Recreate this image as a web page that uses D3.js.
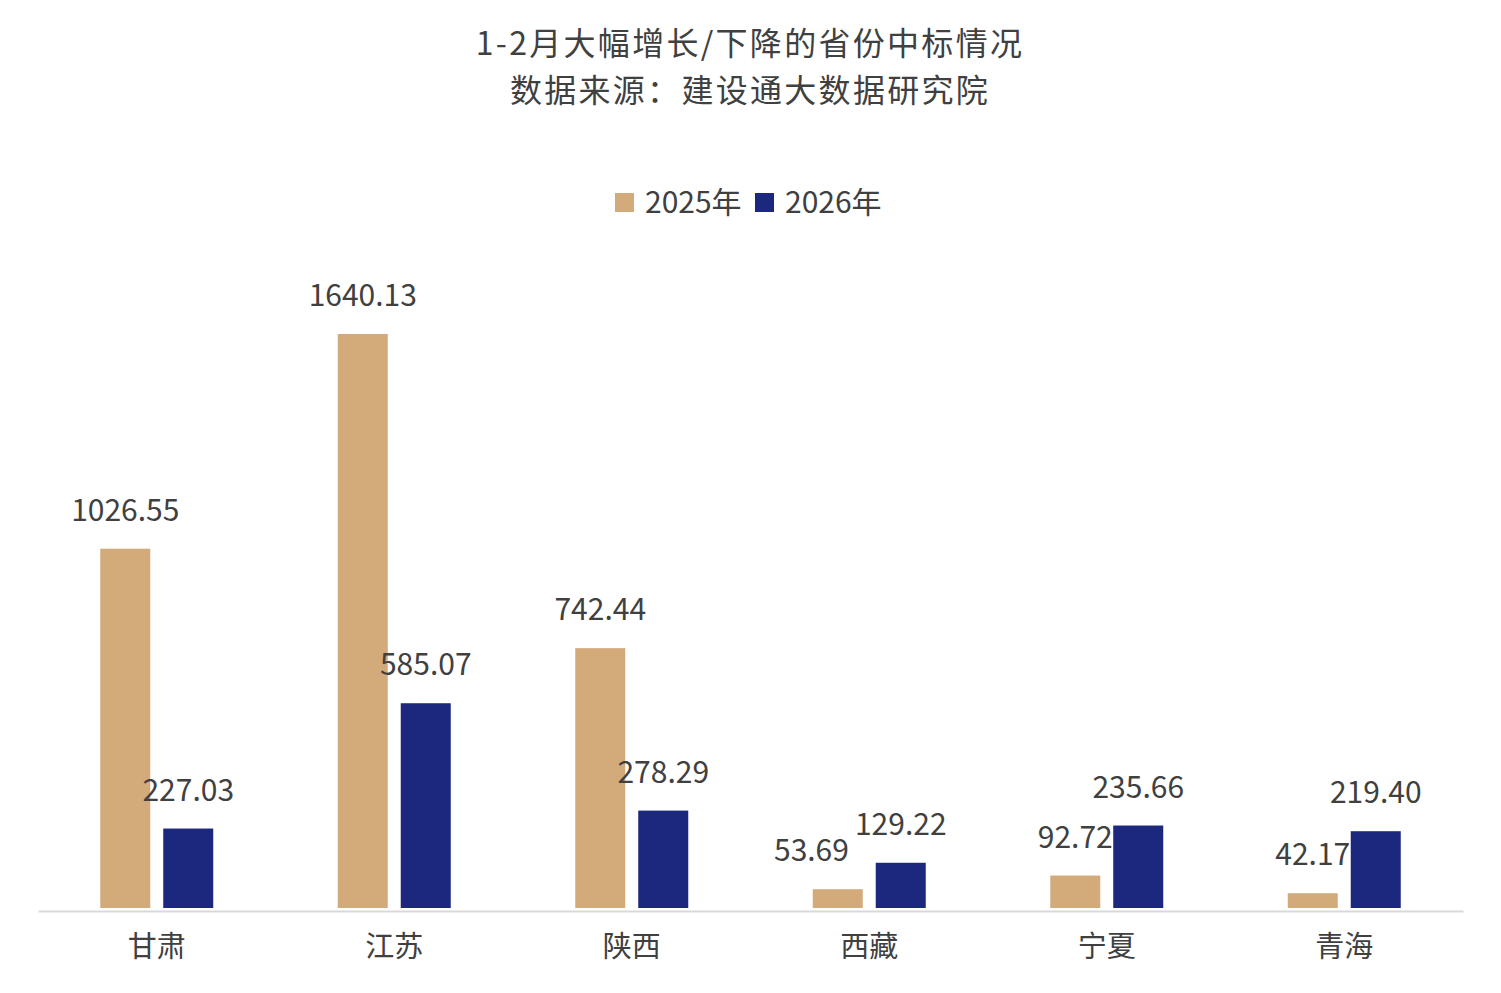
<!DOCTYPE html>
<html>
<head>
<meta charset="utf-8">
<script src="https://cdn.jsdelivr.net/npm/d3@7"></script>
<style>
  body { margin: 0; background: #fff; }
  text { font-family: "Microsoft YaHei", "Noto Sans CJK SC", sans-serif; fill: #404040; }
</style>
</head>
<body>
<div id="chart"></div>
<script>
// data
let provinces = ["甘肃", "江苏", "陕西", "西藏", "宁夏", "青海"];
let series_names = ["2025年", "2026年"];
let values_2025 = [1026.55, 1640.13, 742.44, 53.69, 92.72, 42.17];
let values_2026 = [227.03, 585.07, 278.29, 129.22, 235.66, 219.40];
let colors = ["#D3AB7B", "#1B287D"];
let title_lines = ["1-2月大幅增长/下降的省份中标情况", "数据来源：建设通大数据研究院"];

function add_svg(wrapper)
{
  let svg = d3.select(wrapper).append("svg");
  return svg.attr("width", 1501).attr("height", 993);
}

function draw_bars(wrapper)
{
  let svg = add_svg(wrapper);

  // title
  svg.selectAll(".title").data(title_lines).enter().append("text")
    .attr("x", 750).attr("y", (d, i) => 55 + i * 47)
    .attr("text-anchor", "middle")
    .style("font-size", "32px")
    .style("letter-spacing", "2.3px")
    .text(d => d);

  let scalex = d3.scaleBand().domain(provinces).range([38, 1463]);
  let scale_series = d3.scaleBand().domain(series_names)
    .range([scalex.bandwidth() / 2 - 56.5, scalex.bandwidth() / 2 + 56.5])
    .paddingInner(0.206);
  let scaley = d3.scaleLinear().domain([0, 1800]).range([908, 278]);

  let rows = provinces.map((p, i) => ({ name: p, vals: [values_2025[i], values_2026[i]] }));

  let groups = svg.selectAll(".grp").data(rows).enter().append("g")
    .attr("transform", d => "translate(" + scalex(d.name) + ",0)");

  groups.selectAll("rect").data(d => d.vals.map((v, j) => ({ s: series_names[j], v: v, c: colors[j] })))
    .enter().append("rect")
    .attr("x", d => scale_series(d.s))
    .attr("width", scale_series.bandwidth())
    .attr("y", d => scaley(d.v))
    .attr("height", d => scaley(0) - scaley(d.v))
    .attr("fill", d => d.c);

  groups.each(function(d) {
    let g = d3.select(this);
    let labels = g.selectAll(".lbl").data(d.vals.map((v, j) => ({ s: series_names[j], v: v })))
      .enter().append("text")
      .attr("class", "lbl")
      .attr("x", e => scale_series(e.s) + scale_series.bandwidth() / 2)
      .attr("y", e => scaley(e.v) - 28)
      .attr("text-anchor", "middle")
      .style("font-size", "30px")
      .text(e => e.v.toFixed(2));

    // push the 2025 label left when it runs into the 2026 one
    let nodes = labels.nodes();
    let a = nodes[0].getBBox(), b = nodes[1].getBBox();
    let overlap_y = a.y < b.y + b.height - 12 && b.y < a.y + a.height - 12;
    let overlap_x = a.x + a.width + 6 - b.x;
    if (overlap_y && overlap_x > 0)
      d3.select(nodes[0]).attr("x", +d3.select(nodes[0]).attr("x") - overlap_x);
  });

  // x axis
  let x_axis = d3.axisBottom(scalex).tickSize(0).tickPadding(25);
  let gx = svg.append("g").attr("transform", "translate(0,911)").call(x_axis);
  gx.select(".domain").attr("stroke", "#D9D9D9").attr("stroke-width", 2);
  gx.selectAll("text").style("font-size", "29px").attr("fill", "#404040")
    .style("font-family", "\"Microsoft YaHei\", \"Noto Sans CJK SC\", sans-serif");

  // legend
  let legend = svg.append("g");
  let lx = [615, 755];
  series_names.forEach((s, i) => {
    legend.append("rect").attr("x", lx[i]).attr("y", 193).attr("width", 19).attr("height", 19)
      .attr("fill", colors[i]);
    legend.append("text").attr("x", lx[i] + 30).attr("y", 213)
      .style("font-size", "30px").text(s);
  });
}

draw_bars("#chart");
</script>
</body>
</html>
